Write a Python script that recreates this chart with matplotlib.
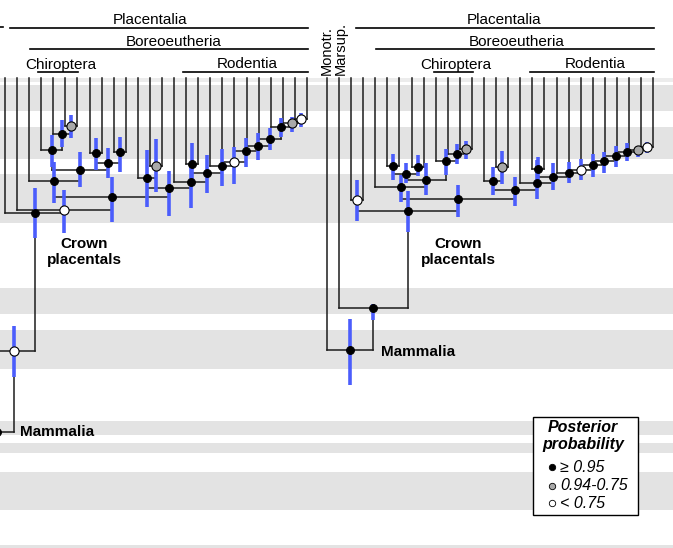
import matplotlib.pyplot as plt

plt.rcParams['font.family'] = ['Liberation Sans', 'DejaVu Sans']

# tip layout: 28 tips per tree (Monotremata, Marsupialia, then 26 placentals)
tip_top = 78
tip_step = 12.08
left_x0 = -19.2     # left tree is cropped: the first two tips lie off the page
right_x0 = 327.0

# time bands behind the trees (top, bottom)
bands = [(85, 111), (127, 159), (174, 223), (288, 314), (330, 369),
         (421, 435), (443, 453), (472, 510), (545, 552)]

# nodes: name, child a, child b, height, HPD low, HPD high, posterior class
# (int child = tip index, str child = earlier node)
left_nodes = [
    ("a1", 7, 8, 126, 115, 138, "mid"),
    ("a2", 6, "a1", 134, 120, 147, "high"),
    ("a3", 5, "a2", 150, 135, 167, "high"),
    ("b1", 9, 10, 153, 138, 170, "high"),
    ("b2", 11, 12, 152, 137, 172, "high"),
    ("b3", "b1", "b2", 163, 148, 178, "high"),
    ("a4", "a3", "b3", 170, 152, 187, "high"),
    ("a5", 4, "a4", 181, 162, 203, "high"),
    ("c1", 14, 15, 166, 139, 192, "mid"),
    ("c2", 13, "c1", 178, 150, 207, "high"),
    ("r1", 26, 27, 119, 113, 127, "low"),
    ("r2", 25, "r1", 123, 117, 132, "mid"),
    ("r3", 24, "r2", 127, 118, 137, "high"),
    ("r4", 23, "r3", 139, 128, 150, "high"),
    ("r5", 22, "r4", 146, 133, 160, "high"),
    ("r6", 21, "r5", 151, 138, 167, "high"),
    ("r7", 20, "r6", 162, 147, 184, "low"),
    ("r8", 19, "r7", 166, 149, 186, "high"),
    ("r9", 17, 18, 164, 143, 185, "high"),
    ("r10", "r9", "r8", 173, 155, 193, "high"),
    ("r11", 16, "r10", 182, 165, 208, "high"),
    ("c3", "c2", "r11", 188, 171, 216, "high"),
    ("bo", "a5", "c3", 197, 177, 222, "high"),
    ("pl", 3, "bo", 210, 190, 233, "low"),
    ("crown", 2, "pl", 213, 188, 238, "high"),
    ("th", 1, "crown", 351, 326, 377, "low"),
    ("mam", 0, "th", 432, None, None, "high"),
]

right_nodes = [
    ("at", 2, 3, 200, 180, 221, "low"),
    ("l1", 5, 6, 166, 154, 180, "high"),
    ("l2", 7, 8, 167, 155, 176, "high"),
    ("l3", "l1", "l2", 174, 163, 183, "high"),
    ("g1", 11, 12, 149, 141, 159, "mid"),
    ("g2", 10, "g1", 154, 144, 164, "high"),
    ("g3", 9, "g2", 161, 149, 175, "high"),
    ("l4", "l3", "g3", 180, 163, 195, "high"),
    ("l5", 4, "l4", 187, 175, 202, "high"),
    ("m1", 14, 15, 167, 151, 184, "mid"),
    ("m2", 13, "m1", 181, 167, 195, "high"),
    ("s1", 26, 27, 147, 142, 153, "low"),
    ("s2", 25, "s1", 150, 146, 157, "mid"),
    ("s3", 24, "s2", 152, 143, 161, "high"),
    ("s4", 23, "s3", 156, 146, 167, "high"),
    ("s5", 22, "s4", 161, 152, 173, "high"),
    ("s6", 21, "s5", 165, 154, 177, "high"),
    ("s7", 20, "s6", 170, 159, 180, "low"),
    ("s8", 19, "s7", 173, 162, 183, "high"),
    ("s9", 17, 18, 169, 157, 180, "high"),
    ("s10", "s9", "s8", 177, 163, 190, "high"),
    ("s11", 16, "s10", 183, 160, 199, "high"),
    ("m3", "m2", "s11", 190, 177, 206, "high"),
    ("bo", "l5", "m3", 199, 185, 217, "high"),
    ("crown", "at", "bo", 211, 191, 232, "high"),
    ("th", 1, "crown", 308, 304, 320, "high"),
    ("mam", 0, "th", 350, 319, 385, "high"),
]

# clade labels: name, first tip, last tip, line height, start pad, text shift
left_clades = [("Placentalia", 2, 27, 28, 5, -9), ("Boreoeutheria", 4, 27, 49, 1, 5),
               ("Chiroptera", 5, 8, 72, -3, 2), ("Rodentia", 17, 27, 72, -3, 2)]
right_clades = [("Placentalia", 2, 27, 28, 5, -1), ("Boreoeutheria", 4, 27, 49, 1, 1.5),
                ("Chiroptera", 9, 12, 72, -2, 2.5), ("Rodentia", 17, 27, 72, -2, 3)]

pp_colors = {"high": "black", "mid": "#a9a9a9", "low": "white"}
line_col = "#1c1c1c"
bar_col = "#4b5dfc"


def draw_tree(ax, nodes, x0, clades):
    pos = {}

    def child_xy(c):
        if isinstance(c, int):
            return x0 + tip_step * c, tip_top
        return pos[c]

    for name, a, b, y, lo, hi, pp in nodes:
        xa, ya = child_xy(a)
        xb, yb = child_xy(b)
        x = (xa + xb) / 2
        pos[name] = (x, y)
        ax.plot([xa, xb], [y, y], color=line_col, lw=1.1, zorder=2,
                solid_capstyle="projecting")
        ax.plot([xa, xa], [ya, y], color=line_col, lw=1.1, zorder=2)
        ax.plot([xb, xb], [yb, y], color=line_col, lw=1.1, zorder=2)
        if lo is not None:
            ax.plot([x, x], [lo, hi], color=bar_col, lw=2.6, zorder=3,
                    solid_capstyle="butt")
        size = 5.6 if pp == "high" else 6.6
        ax.plot(x, y, "o", ms=size, mfc=pp_colors[pp], mec="black",
                mew=0.8, zorder=4)

    for label, t0, t1, ly, pad, dx in clades:
        xs = x0 + tip_step * t0 + pad
        xe = x0 + tip_step * t1 + 1
        ax.plot([xs, xe], [ly, ly], color="black", lw=1.2, zorder=2)
        ax.text((xs + xe) / 2 + dx, ly - 3.5, label, ha="center",
                va="baseline", fontsize=11)
    return pos


fig = plt.figure(figsize=(6.73, 5.48), dpi=100)
ax = fig.add_axes([0, 0, 1, 1])
ax.set_xlim(0, 673)
ax.set_ylim(548, 0)
ax.axis("off")

ax.axhspan(78, 82, color="#ececec", lw=0, zorder=0)
for top, bottom in bands:
    ax.axhspan(top, bottom, color="#e3e3e3", lw=0, zorder=0)

lpos = draw_tree(ax, left_nodes, left_x0, left_clades)
rpos = draw_tree(ax, right_nodes, right_x0, right_clades)

# stub of the cropped label line at the far left
ax.plot([0, 3], [27, 27], color="black", lw=1.2)

# rotated outgroup labels on the right tree, packed side by side
gap_x = right_x0 + tip_step * 0.55
ax.text(gap_x, 75, "Monotr.", rotation=90, ha="right", va="bottom",
        fontsize=10.5)
ax.text(gap_x + 0.5, 75, "Marsup.", rotation=90, ha="left", va="bottom",
        fontsize=10.5)

bold = dict(fontsize=11, fontweight="bold", linespacing=1.15)
ax.text(84.5, 252, "Crown\nplacentals", ha="center", va="center", **bold)
ax.text(458, 252, "Crown\nplacentals", ha="center", va="center", **bold)
ax.text(lpos["mam"][0] + 23, lpos["mam"][1], "Mammalia", ha="left",
        va="center", **bold)
ax.text(rpos["th"][0] + 8, rpos["mam"][1] + 2, "Mammalia", ha="left",
        va="center", **bold)

# legend box
ax.add_patch(plt.Rectangle((533, 417), 105, 98, fc="white", ec="black",
                           lw=1.0, zorder=5))
ax.text(583, 427, "Posterior", ha="center", va="center", fontsize=11.5,
        fontweight="bold", style="italic", zorder=6)
ax.text(583, 445, "probability", ha="center", va="center", fontsize=11.5,
        fontweight="bold", style="italic", zorder=6)
for yy, pp, label in [(467, "high", "\u2265 0.95"), (486, "mid", "0.94-0.75"),
                      (503, "low", "< 0.75")]:
    ax.plot(552, yy, "o", ms=4.6, mfc=pp_colors[pp], mec="black", mew=0.6,
            zorder=6)
    ax.text(560, yy, label, ha="left", va="center", fontsize=11.5,
            style="italic", zorder=6)

fig.savefig("out.png", dpi=100)
